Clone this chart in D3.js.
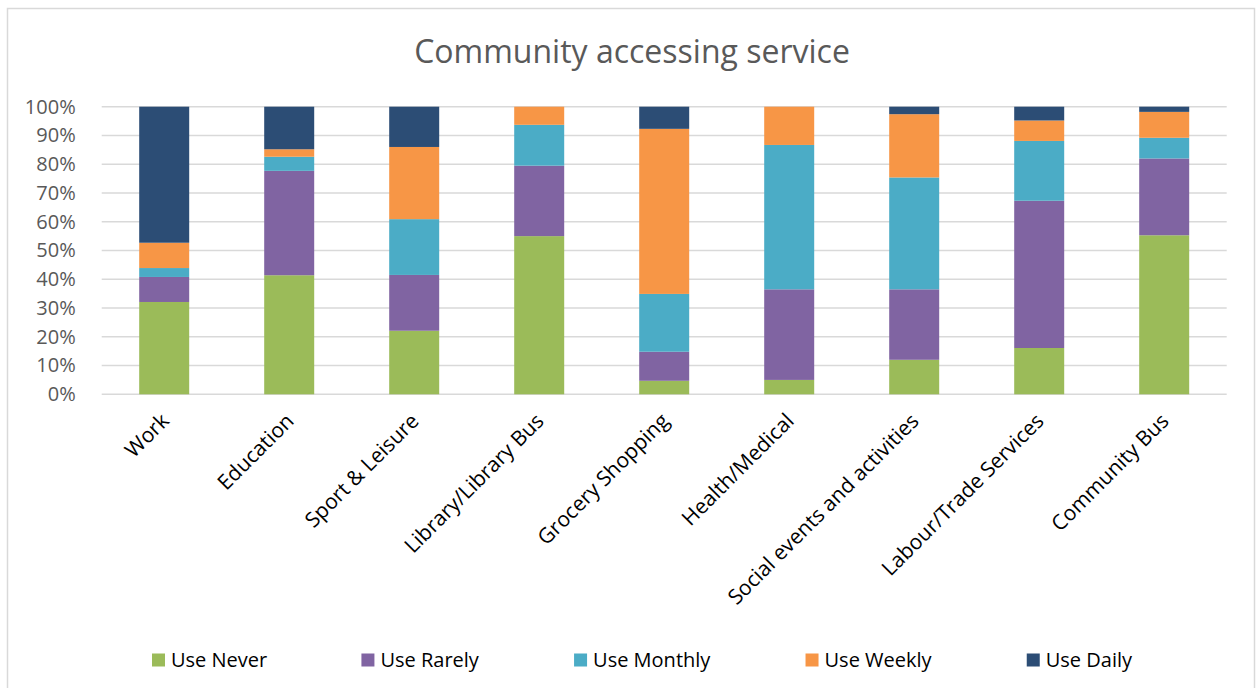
<!DOCTYPE html>
<html>
  <head>
    <title>Community accessing service</title>
    <style>
      body { margin: 0; background: #fff; }
      text { font-family: "Open Sans", "Liberation Sans", Arial, sans-serif; }
      .grid line { stroke: #d9d9d9; stroke-width: 1.5; }
    </style>
    <script src="https://cdn.jsdelivr.net/npm/d3@7"></script>
  </head>
  <body>
    <svg id="container" width="1256" height="688"></svg>
  </body>
  <script>
    const categories = ["Work", "Education", "Sport & Leisure", "Library/Library Bus",
      "Grocery Shopping", "Health/Medical", "Social events and activities",
      "Labour/Trade Services", "Community Bus"];
    const seriesNames = ["Use Never", "Use Rarely", "Use Monthly", "Use Weekly", "Use Daily"];
    const colors = ["#9bbb59", "#8064a2", "#4bacc6", "#f79646", "#2c4d75"];

    // percentages
    const useNever   = [32.1, 41.4, 22.1, 55.0,  4.7,  5.0, 12.0, 16.1, 55.3];
    const useRarely  = [ 8.7, 36.3, 19.4, 24.5, 10.1, 31.5, 24.5, 51.2, 26.7];
    const useMonthly = [ 3.1,  4.9, 19.4, 14.2, 20.1, 50.2, 38.9, 20.8,  7.2];
    const useWeekly  = [ 8.8,  2.6, 25.1,  6.3, 57.4, 13.3, 22.0,  7.1,  9.0];
    const useDaily   = [47.3, 14.8, 14.0,  0.0,  7.7,  0.0,  2.6,  4.8,  1.8];
    const yTicks = [0, 10, 20, 30, 40, 50, 60, 70, 80, 90, 100];

    const allSeries = [useNever, useRarely, useMonthly, useWeekly, useDaily];
    const rows = categories.map((c, i) => {
      const r = { cat: c };
      seriesNames.forEach((s, j) => r[s] = allSeries[j][i]);
      return r;
    });

    const svg = d3.select("#container");

    // outer chart border
    svg.append("rect")
      .attr("x", 7.5).attr("y", 8.5)
      .attr("width", 1247).attr("height", 690)
      .attr("fill", "none").attr("stroke", "#d9d9d9").attr("stroke-width", 1.5);

    const plotLeft = 101.7, plotRight = 1226.7, plotTop = 106.7, plotBottom = 394.3;

    const x = d3.scaleBand().domain(categories).range([plotLeft, plotRight]).paddingInner(0.6).paddingOuter(0.3);
    const y = d3.scaleLinear().domain([0, 100]).range([plotBottom, plotTop]);

    // title
    svg.append("text")
      .attr("x", 632).attr("y", 63)
      .attr("text-anchor", "middle")
      .attr("fill", "#595959")
      .attr("font-size", 32)
      .text("Community accessing service");

    // gridlines
    svg.append("g").attr("class", "grid")
      .selectAll("line").data(yTicks).enter().append("line")
      .attr("x1", plotLeft).attr("x2", plotRight)
      .attr("y1", d => y(d)).attr("y2", d => y(d));

    // y axis labels
    const yAxis = svg.append("g")
      .attr("transform", `translate(${plotLeft - 23},0)`)
      .call(d3.axisLeft(y).tickValues(yTicks).tickFormat(d => d + "%").tickSize(0));
    yAxis.select(".domain").remove();
    yAxis.selectAll("text").attr("font-size", 20).attr("fill", "#595959")
      .attr("font-family", "Open Sans, sans-serif");

    // stacked bars
    const stacked = d3.stack().keys(seriesNames)(rows);
    svg.append("g").selectAll("g").data(stacked).enter().append("g")
      .attr("fill", (d, i) => colors[i])
      .selectAll("rect").data(d => d).enter().append("rect")
      .attr("x", d => x(d.data.cat))
      .attr("width", x.bandwidth())
      .attr("y", d => y(d[1]))
      .attr("height", d => y(d[0]) - y(d[1]));

    // x axis labels, rotated
    const xAxis = svg.append("g")
      .attr("transform", `translate(0,${plotBottom})`)
      .call(d3.axisBottom(x).tickSize(0));
    xAxis.select(".domain").remove();
    xAxis.selectAll("text")
      .attr("font-size", 21).attr("fill", "#000")
      .attr("font-family", "Open Sans, sans-serif")
      .attr("text-anchor", "end")
      .attr("dy", null).attr("y", 0)
      .attr("transform", "translate(6,28) rotate(-45)");

    // legend
    const legend = svg.append("g").attr("transform", "translate(0,660)");
    const items = legend.selectAll("g").data(seriesNames).enter().append("g");
    items.append("rect")
      .attr("width", 13).attr("height", 13).attr("y", -6.5)
      .attr("fill", (d, i) => colors[i]);
    items.append("text")
      .attr("x", 19).attr("dy", "0.35em")
      .attr("font-size", 20).attr("fill", "#000")
      .text(d => d);
    const widths = items.nodes().map(n => n.getBBox().width);
    const legendStart = 152, legendEnd = 1133;
    const gap = (legendEnd - legendStart - d3.sum(widths)) / (widths.length - 1);
    let pos = legendStart;
    items.attr("transform", (d, i) => {
      const t = `translate(${pos},0)`;
      pos += widths[i] + gap;
      return t;
    });
  </script>
</html>
